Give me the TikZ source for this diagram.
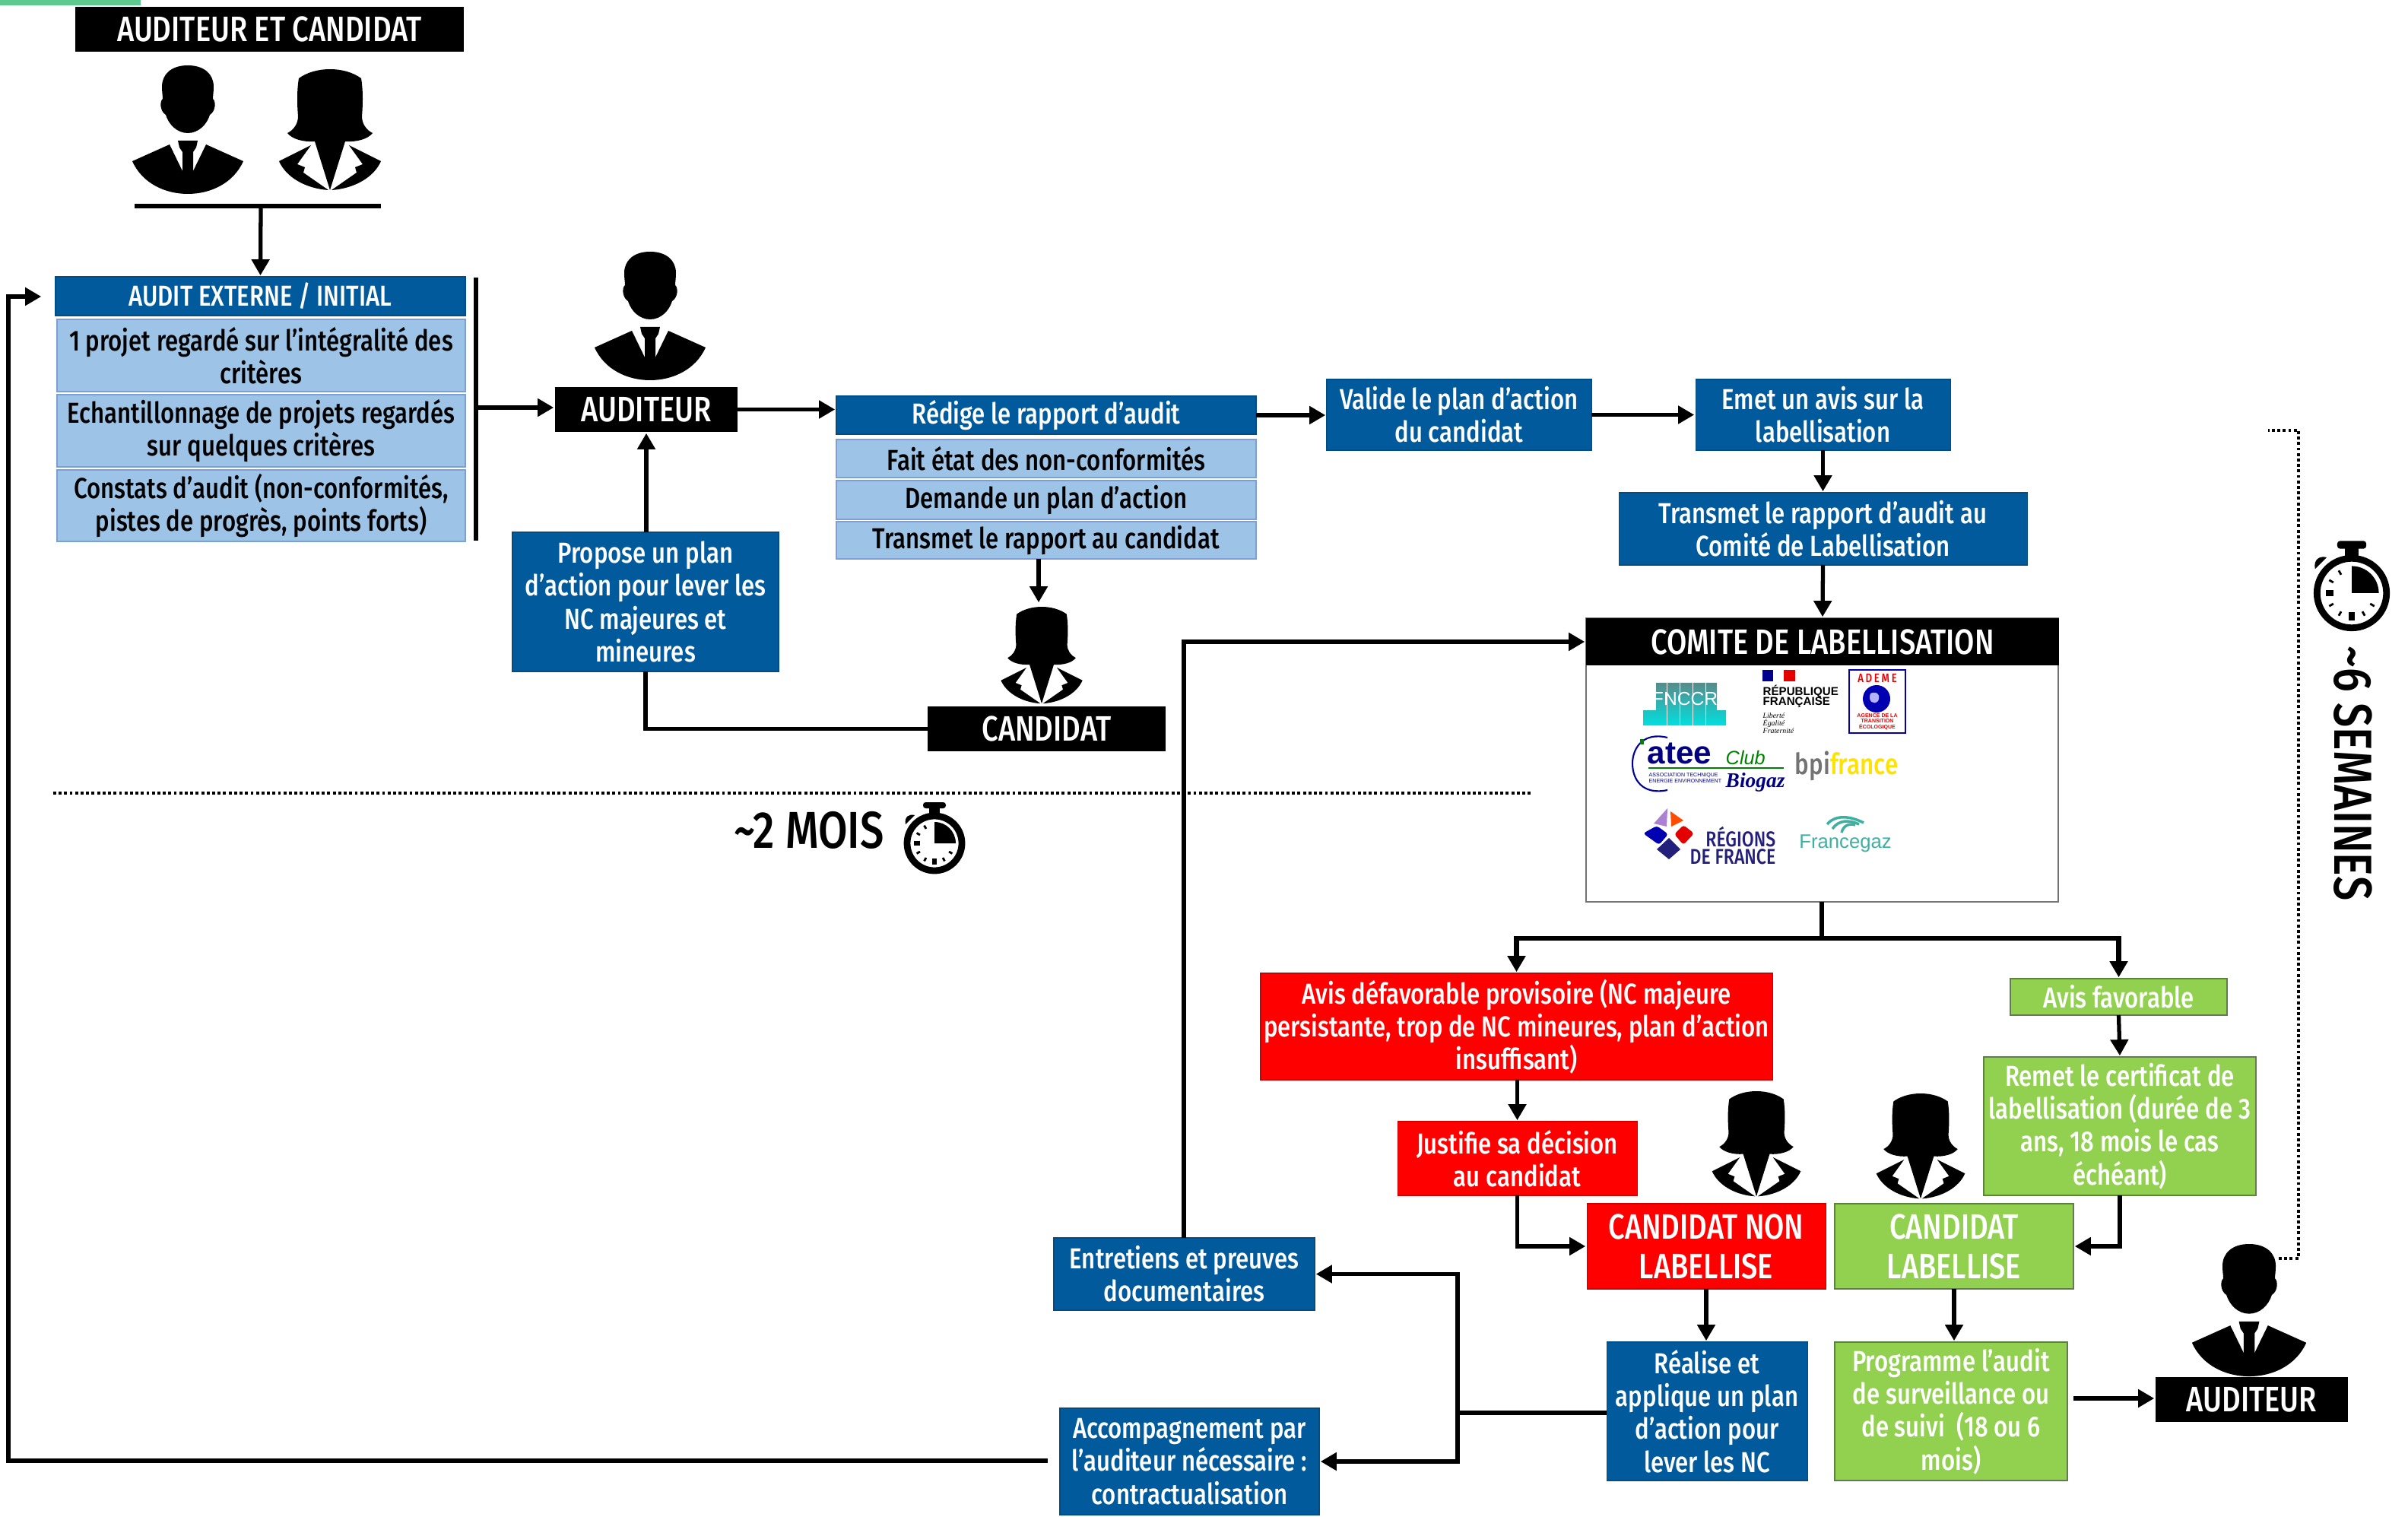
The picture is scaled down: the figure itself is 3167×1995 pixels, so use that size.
\documentclass[tikz,border=0pt]{standalone}
\usepackage{fontspec}
\usetikzlibrary{arrows.meta,calc}
\setmainfont{Fira Sans}
\newfontfamily\din[FakeStretch=0.82]{Fira Sans Medium}
\newfontfamily\lgs{Liberation Sans}
\newfontfamily\lgi{Liberation Serif}
\definecolor{bleu}{HTML}{005A9C}
\definecolor{bleuc}{HTML}{9DC3E6}
\definecolor{bleub}{HTML}{7C9FD8}
\definecolor{vert}{HTML}{92D050}
\definecolor{vertb}{HTML}{5F7F45}
\definecolor{rouge}{HTML}{FF0000}
\definecolor{flash}{HTML}{5CC98F}
\definecolor{tealc}{HTML}{3FB0A0}
\definecolor{navy}{HTML}{231F7A}
\newcommand{\bx}[7]{\node[#6,minimum width={(#4-#2)*0.01cm},minimum height={(#5-#3)*0.01cm}] (#1) at ({(#2+#4)/2},{(#3+#5)/2}) {#7};}
\newcommand{\tb}{\din\fontsize{10.8}{12.3}\selectfont}
\newcommand{\tg}{\din\fontsize{13.2}{14.8}\selectfont}
\tikzset{
 x=0.01cm,y=-0.01cm,
 boite/.style={inner sep=0pt,outer sep=0pt,align=center,font=\tb},
 noir/.style={boite,fill=black,text=white,font=\tg},
 sbleu/.style={boite,fill=bleu,draw=bleu!85!black,line width=.3pt,text=white},
 sclair/.style={boite,fill=bleuc,draw=bleub,line width=.4pt,text=black},
 srouge/.style={boite,fill=rouge,draw=rouge!80!black,line width=.3pt,text=white},
 svert/.style={boite,fill=vert,draw=vertb,line width=.4pt,text=white},
 grand/.style={font=\tg},
 ligne/.style={line width=1.5pt},
 fleche/.style={line width=1.5pt,-{Triangle[length=6pt,width=6.5pt]},shorten >=.5pt},
 epais/.style={line width=1.9pt},
 pointille/.style={line width=1.1pt,dash pattern=on 1.1pt off .95pt},
 man/.pic={
  \fill (0,0) .. controls (-22,0) and (-34,12) .. (-34,28) .. controls (-34,35) and (-33,40) .. (-33,44)
    .. controls (-37,47) and (-37,60) .. (-29,65) .. controls (-25,78) and (-14,89) .. (0,89)
    .. controls (14,89) and (25,78) .. (29,65) .. controls (37,60) and (37,47) .. (33,44)
    .. controls (33,40) and (34,35) .. (34,28) .. controls (34,12) and (22,0) .. (0,0) -- cycle;
  \fill (-73,126) -- (-24,104) -- (-6,141) -- (6,141) -- (24,104) -- (73,126)
    .. controls (60,155) and (30,169) .. (0,169) .. controls (-30,169) and (-60,155) .. (-73,126) -- cycle;
  \fill (-13,99) -- (13,99) -- (11,108) -- (7,114) -- (7,141) -- (-7,141) -- (-7,114) -- (-11,108) -- cycle;
 },
 woman/.pic={
  \fill (0,0) .. controls (-15,0) and (-30,4) .. (-41,12) .. controls (-44,30) and (-43,50) .. (-42,62)
    .. controls (-42,72) and (-48,80) .. (-56,84) .. controls (-50,92) and (-35,96) .. (-20,95)
    -- (0,159) -- (20,95) .. controls (35,96) and (50,92) .. (56,84) .. controls (48,80) and (42,72) .. (42,62)
    .. controls (43,50) and (44,30) .. (41,12) .. controls (30,4) and (15,0) .. (0,0) -- cycle;
  \fill (-25,100) -- (-67,121) .. controls (-58,142) and (-32,157) .. (-2,159) -- (-35,136) -- (-33,129) -- (-43,125) -- cycle;
  \fill (25,100) -- (67,121) .. controls (58,142) and (32,157) .. (2,159) -- (35,136) -- (33,129) -- (43,125) -- cycle;
 },
 chrono/.pic={
  \draw[line width=2.5pt] (0,0) circle[radius=36];
  \fill (0,-28) .. controls (15.5,-28) and (28,-15.5) .. (28,0) -- (0,0) -- cycle;
  \fill[rounded corners=1pt] (-15,-54) rectangle (15,-46);
  \fill (-7,-47) rectangle (7,-38);
  \fill (-38,-25) .. controls (-40,-35) and (-33,-39) .. (-26,-37) -- (-30,-33) -- cycle;
  \fill (-27,-3) rectangle (-19,3);
  \fill (-3,20) rectangle (3,28);
  \foreach \a in {30,60,120,150,210,240,330,300}
    \draw[line width=.8pt] (\a:22) -- (\a:27);
 },
}
\begin{document}
\begin{tikzpicture}
\useasboundingbox (0,0) rectangle (3167,1995);
\fill[flash] (0,0) rectangle (185,7);

% --- haut gauche
\bx{titre}{99}{9}{610}{68}{noir}{AUDITEUR ET CANDIDAT}
\pic at (247,86) {man};
\pic at (434,91) {woman};
\coordinate (barG) at (177,271);
\coordinate (barD) at (501,271);
\coordinate (barM) at (343,271);
\draw[epais] (barG) -- (barD);

\bx{audit}{73}{364}{612}{415}{sbleu}{AUDIT EXTERNE / INITIAL}
\bx{c1}{75}{420}{612}{515}{sclair}{1 projet regardé sur l’intégralité des\\critères}
\bx{c2}{75}{519}{612}{614}{sclair}{Echantillonnage de projets regardés\\sur quelques critères}
\bx{c3}{75}{618}{612}{712}{sclair}{Constats d’audit (non-conformités,\\pistes de progrès, points forts)}
\draw[fleche] (barM) -- (audit.north);
\coordinate (vH) at (626,365);
\coordinate (vB) at (626,711);
\coordinate (vM) at (626,536);
\draw[epais] (vH) -- (vB);

\pic at (855,331) {man};
\bx{aud}{730}{509}{970}{568}{noir}{AUDITEUR}
\draw[fleche] (vM) -- (vM -| aud.west);

\bx{prop}{674}{700}{1024}{883}{sbleu}{Propose un plan\\d’action pour lever les\\NC majeures et\\mineures}
\draw[fleche] (prop.north -| aud.south) -- (aud.south);

\bx{rapport}{1100}{521}{1652}{571}{sbleu}{Rédige le rapport d’audit}
\bx{fait}{1100}{578}{1652}{628}{sclair}{Fait état des non-conformités}
\bx{dem}{1100}{632}{1652}{683}{sclair}{Demande un plan d’action}
\bx{trans}{1100}{686}{1652}{735}{sclair}{Transmet le rapport au candidat}
\draw[fleche] (aud.east) -- (aud.east -| rapport.west);

\pic[scale=.8] at (1370,798) {woman};
\bx{cand}{1220}{929}{1533}{988}{noir}{CANDIDAT}
\coordinate (tD) at (1366,735);
\coordinate (tF) at (1366,794);
\draw[fleche] (tD) -- (tF);
\draw[ligne] (cand.west) -| (prop.south);

\bx{valide}{1745}{499}{2093}{592}{sbleu}{Valide le plan d’action\\du candidat}
\bx{emet}{2230}{499}{2565}{592}{sbleu}{Emet un avis sur la\\labellisation}
\bx{transcom}{2129}{648}{2666}{743}{sbleu}{Transmet le rapport d’audit au\\Comité de Labellisation}
\draw[fleche] (rapport.east) -- (rapport.east -| valide.west);
\draw[fleche] (valide.east) -- (emet.west);
\draw[fleche] (emet.south) -- (transcom.north);

% --- comité
\bx{fond}{2086}{813}{2707}{1186}{boite,fill=white,draw=black!55,line width=.6pt}{}
\bx{comite}{2086}{813}{2708}{875}{noir}{COMITE DE LABELLISATION}
\draw[fleche] (transcom.south) -- (comite.north);

% logos
\begin{scope}
\shade[top color=black!40!teal!65!white,bottom color=cyan!75!teal]
 (2178,898) -- (2258,898) -- (2258,934) -- (2270,934) -- (2270,954) -- (2161,954) -- (2161,934) -- (2178,934) -- cycle;
\foreach \xx in {2192,2209,2226,2243} \draw[white,line width=.3pt] (\xx,898) -- (\xx,954);
\end{scope}
\node[inner sep=0,text=white,font=\lgs\fontsize{7}{7}\selectfont] (fnccr) at (2216,919) {FNCCR};
\fill[blue!55!black] (2318,881) rectangle (2332,896);
\fill[red!90!black] (2346,881) rectangle (2361,896);
\node[inner sep=0,anchor=west,font=\lgs\bfseries\fontsize{4.3}{5}\selectfont] (rf1) at (2318,909) {RÉPUBLIQUE};
\node[inner sep=0,anchor=west,font=\lgs\bfseries\fontsize{4.3}{5}\selectfont] (rf2) at (2318,924) {FRANÇAISE};
\node[inner sep=0,anchor=west,font=\lgi\itshape\fontsize{2.8}{3}\selectfont] (rf3) at (2318,941) {Liberté};
\node[inner sep=0,anchor=west,font=\lgi\itshape\fontsize{2.8}{3}\selectfont] (rf4) at (2318,951) {Égalité};
\node[inner sep=0,anchor=west,font=\lgi\itshape\fontsize{2.8}{3}\selectfont] (rf5) at (2318,961) {Fraternité};
\draw[blue!70!black,line width=.5pt,fill=white] (2432,881) rectangle (2506,964);
\node[inner sep=0,text=red!90!black,font=\din\fontsize{4.6}{5}\selectfont] (ad1) at (2469,892) {A\,D\,E\,M\,E};
\fill[blue!70!black] (2468,919) circle[radius=18];
\fill[blue!30!white] (2460,912) .. controls (2468,908) and (2474,914) .. (2470,922) .. controls (2464,928) and (2456,922) .. (2460,912) -- cycle;
\node[inner sep=0,text=red!90!black,align=center,font=\lgs\bfseries\fontsize{2}{2.2}\selectfont] (ad2) at (2469,949) {AGENCE DE LA\\TRANSITION\\ÉCOLOGIQUE};
\draw[blue!60!black,line width=.6pt] (2193,970) .. controls (2160,962) and (2147,985) .. (2147,1004) .. controls (2147,1025) and (2160,1046) .. (2193,1039);
\fill[green!50!black] (2157,972) rectangle (2162,979);
\node[inner sep=0,anchor=west,text=blue!50!black,font=\lgs\bfseries\fontsize{12}{12}\selectfont] (at1) at (2166,991) {atee};
\draw[green!50!black,line width=.5pt] (2168,1010) -- (2346,1010);
\node[inner sep=0,anchor=west,text=green!50!black,font=\lgs\itshape\fontsize{7.2}{8}\selectfont] (at2) at (2269,996) {Club};
\node[inner sep=0,anchor=west,text=blue!50!black,font=\lgi\bfseries\itshape\fontsize{7.8}{8}\selectfont] (at3) at (2269,1029) {Biogaz};
\node[inner sep=0,anchor=west,align=left,text=blue!50!black,font=\lgs\fontsize{2}{2.4}\selectfont] (at4) at (2168,1023) {ASSOCIATION TECHNIQUE\\ENERGIE ENVIRONNEMENT};
\node[inner sep=0,anchor=west,font=\din\fontsize{10.9}{10}\selectfont] (bpi) at (2360,1007) {\textcolor{black!55}{bpi}\textcolor{yellow!85!orange}{france}};
\fill[blue!30!violet!50!white] (2193,1063) -- (2175,1083) -- (2192,1087) -- cycle;
\fill[orange!60!red] (2197,1067) -- (2214,1079) -- (2198,1087) -- cycle;
\fill[blue!70!black,rounded corners=1pt] (2161,1096) -- (2179,1086) -- (2194,1097) -- (2182,1111) -- cycle;
\fill[red!90!black,rounded corners=1pt] (2214,1085) -- (2228,1096) -- (2214,1111) -- (2202,1097) -- cycle;
\fill[navy] (2195,1102) -- (2210,1117) -- (2195,1130) -- (2179,1117) -- cycle;
\node[inner sep=0,anchor=east,align=right,text=navy,font=\din\fontsize{8}{6.8}\selectfont] (reg) at (2336,1112) {RÉGIONS\\DE FRANCE};
\node[inner sep=0,text=tealc,font=\lgs\fontsize{7.3}{8}\selectfont] (fg) at (2427,1109) {Francegaz};
\draw[tealc,line width=1pt] (2403,1084) .. controls (2415,1070) and (2435,1074) .. (2451,1082);
\draw[tealc,line width=1pt] (2410,1090) .. controls (2418,1078) and (2432,1078) .. (2445,1084);
\draw[tealc,line width=1pt] (2422,1095) .. controls (2424,1086) and (2432,1082) .. (2440,1085);

% --- sorties du comité
\coordinate (jt) at (2396,1234);
\bx{defav}{1658}{1280}{2331}{1420}{srouge}{Avis défavorable provisoire (NC majeure\\persistante, trop de NC mineures, plan d’action\\insuffisant)}
\bx{fav}{2644}{1287}{2929}{1335}{svert}{Avis favorable}
\bx{remet}{2609}{1390}{2967}{1572}{svert}{Remet le certificat de\\labellisation (durée de 3\\ans, 18 mois le cas\\échéant)}
\bx{just}{1838}{1475}{2153}{1572}{srouge}{Justifie sa décision\\au candidat}
\draw[epais] (fond.south -| jt) -- (jt);
\draw[fleche,line width=1.9pt] (jt) -| (defav.north);
\draw[fleche,line width=1.9pt] (jt) -| (fav.north);
\draw[fleche] (fav.south) -- (remet.north);
\draw[fleche] (defav.south -| just.north) -- (just.north);

\pic[scale=.87] at (2310,1435) {woman};
\pic[scale=.87] at (2526,1438) {woman};
\bx{cnon}{2087}{1583}{2401}{1695}{srouge,grand}{CANDIDAT NON\\LABELLISE}
\bx{clab}{2413}{1583}{2727}{1695}{svert,grand}{CANDIDAT\\LABELLISE}
\draw[fleche] (just.south) |- (cnon.west);
\draw[fleche] (remet.south) |- (clab.east);

\bx{realise}{2113}{1765}{2377}{1947}{sbleu}{Réalise et\\applique un plan\\d’action pour\\lever les NC}
\bx{prog}{2413}{1765}{2719}{1947}{svert}{Programme l’audit\\de surveillance ou\\de suivi\ \ (18 ou 6\\mois)}
\draw[fleche] (cnon.south) -- (cnon.south |- realise.north);
\draw[fleche] (clab.south) -- (clab.south |- prog.north);

\pic[xscale=1.03,yscale=1.03] at (2958,1636) {man};
\bx{aud2}{2835}{1811}{3088}{1870}{noir}{AUDITEUR}
\coordinate (pS) at (2727,1839);
\draw[fleche] (pS) -- (pS -| aud2.west);

\bx{entre}{1386}{1628}{1729}{1723}{sbleu}{Entretiens et preuves\\documentaires}
\bx{accomp}{1394}{1852}{1735}{1992}{sbleu}{Accompagnement par\\l’auditeur nécessaire :\\contractualisation}
\coordinate (nR) at (1917,1858);
\draw[ligne] (realise.west |- nR) -- (nR);
\draw[fleche] (nR) |- (entre.east);
\draw[fleche] (nR) |- (accomp.east);
\coordinate (cF) at (1557,844);
\draw[fleche] (entre.north -| cF) |- (comite.west |- cF);

\coordinate (retA) at (1378,1921);
\coordinate (retB) at (11,1921);
\coordinate (retC) at (11,390);
\coordinate (retD) at (56,390);
\draw[fleche] (retA) -- (retB) -- (retC) -- (retD);

% --- durées
\coordinate (d1) at (70,1043);
\coordinate (d2) at (2016,1043);
\draw[pointille] (d1) -- (d2);
\node[inner sep=0,anchor=west,font=\din\fontsize{19.4}{20}\selectfont] (mois) at (965,1092) {\textasciitilde2 MOIS};
\pic at (1229,1109) {chrono};

\coordinate (p1) at (2997,1655);
\coordinate (p2) at (3023,1655);
\coordinate (p3) at (3023,566);
\coordinate (p4) at (2983,566);
\draw[pointille] (p1) -- (p2) -- (p3) -- (p4);
\pic[scale=1.27] at (3093,780) {chrono};
\node[inner sep=0,rotate=-90,font=\din\fontsize{20}{20}\selectfont] (sem) at (3095,1017) {\textasciitilde6 SEMAINES};
\end{tikzpicture}
\end{document}
